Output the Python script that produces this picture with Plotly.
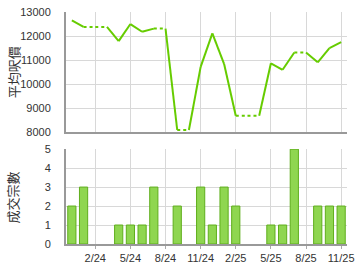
import plotly.graph_objects as go

months = ["12/23","1/24","2/24","3/24","4/24","5/24","6/24","7/24","8/24","9/24","10/24","11/24",
          "12/24","1/25","2/25","3/25","4/25","5/25","6/25","7/25","8/25","9/25","10/25","11/25"]
avg_price = [12650, 12380, None, None, 11790, 12500, 12180, 12310, None, 8100, None, 10720,
             12110, 10850, 8690, None, None, 10870, 10600, 11320, None, 10910, 11500, 11750]
deals = [2, 3, 0, 0, 1, 1, 1, 3, 0, 2, 0, 3, 1, 3, 2, 0, 0, 1, 1, 5, 0, 2, 2, 2]
tick_labels = ["2/24", "5/24", "8/24", "11/24", "2/25", "5/25", "8/25", "11/25"]

# carry forward values for months without deals
filled = []
last = None
for v in avg_price:
    if v is not None:
        last = v
    filled.append(last)

idx = list(range(len(months)))
solid_x, solid_y, dot_x, dot_y = [], [], [], []
for i in range(1, len(months)):
    if avg_price[i] is not None:
        solid_x += [i - 1, i, None]
        solid_y += [filled[i - 1], filled[i], None]
    else:
        dot_x += [i - 1, i, None]
        dot_y += [filled[i - 1], filled[i], None]

bar_y = [d if d > 0 else None for d in deals]
tickvals = [months.index(t) for t in tick_labels]
green = "#66cc00"

fig = go.Figure()
fig.add_trace(go.Scatter(x=solid_x, y=solid_y, mode="lines",
                         line=dict(color=green, width=2), xaxis="x2", yaxis="y2",
                         showlegend=False, hoverinfo="skip"))
fig.add_trace(go.Scatter(x=dot_x, y=dot_y, mode="lines",
                         line=dict(color=green, width=2, dash="dot"), xaxis="x2", yaxis="y2",
                         showlegend=False, hoverinfo="skip"))
fig.add_trace(go.Bar(x=idx, y=bar_y, width=0.7,
                     marker=dict(color="#8fd650", line=dict(color="#5fae1c", width=1)),
                     xaxis="x", yaxis="y", showlegend=False))

font = dict(family="Liberation Sans, Arial, sans-serif", size=11, color="#333333")
grid = "#d8d8d8"
axisline = "#999999"
cjk = dict(family="Noto Sans CJK TC", size=13, color="#333333")

fig.update_layout(
    width=360, height=270,
    margin=dict(l=66, r=6, t=7, b=26),
    paper_bgcolor="white", plot_bgcolor="white",
    font=font,
    xaxis=dict(range=[-0.5, 23.5], tickvals=tickvals, ticktext=tick_labels,
               showgrid=True, gridcolor=grid, gridwidth=1, showline=True, linecolor=axisline,
               linewidth=2, ticks="outside", ticklen=3, tickcolor="#aaaaaa",
               zeroline=False, anchor="y", ticklabeloverflow="allow"),
    xaxis2=dict(range=[-0.5, 23.5], tickvals=tickvals, showticklabels=False,
                showgrid=True, gridcolor=grid, showline=True, linecolor=axisline, linewidth=2,
                zeroline=False, anchor="y2"),
    yaxis=dict(domain=[0, 0.409], range=[0, 5], tickvals=[0, 1, 2, 3, 4, 5],
               showgrid=True, gridcolor=grid, showline=True, linecolor=axisline, linewidth=2,
               zeroline=False, ticks="", ticklabelstandoff=11),
    yaxis2=dict(domain=[0.481, 1], range=[8000, 13000],
                tickvals=[8000, 9000, 10000, 11000, 12000, 13000], tickformat="d",
                showgrid=True, gridcolor=grid, showline=True, linecolor=axisline, linewidth=2,
                zeroline=False, ticks="", ticklabelstandoff=11, anchor="x2"),
    annotations=[
        dict(text="平均呎價", xref="paper", yref="paper", x=0, y=0.74, xshift=-53,
             xanchor="center", yanchor="middle", textangle=-90, showarrow=False, font=cjk),
        dict(text="成交宗數", xref="paper", yref="paper", x=0, y=0.2, xshift=-53,
             xanchor="center", yanchor="middle", textangle=-90, showarrow=False, font=cjk),
    ],
)
fig.write_html("out.html")
